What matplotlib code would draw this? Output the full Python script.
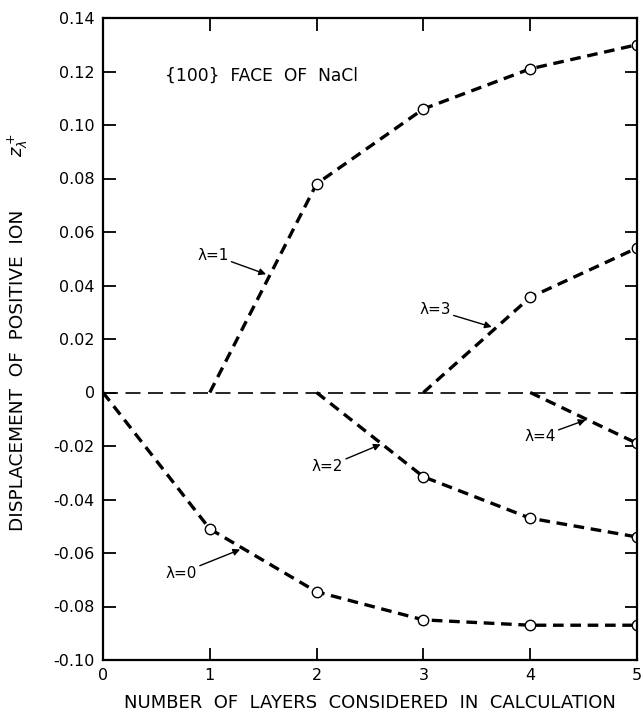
import matplotlib
matplotlib.use("Agg")
from matplotlib import pyplot as plt

# data
x0 = [0, 1, 2, 3, 4, 5]
y0 = [0, -0.051, -0.0745, -0.085, -0.087, -0.087]
x1 = [1, 2, 3, 4, 5]
y1 = [0, 0.078, 0.106, 0.121, 0.130]
x2 = [2, 3, 4, 5]
y2 = [0, -0.0315, -0.047, -0.054]
x3 = [3, 4, 5]
y3 = [0, 0.0356, 0.054]
x4 = [4, 5]
y4 = [0, -0.019]

series = [(x0, y0), (x1, y1), (x2, y2), (x3, y3), (x4, y4)]

yticks = [0.14, 0.12, 0.10, 0.08, 0.06, 0.04, 0.02, 0, -0.02, -0.04, -0.06, -0.08, -0.10]
ytick_labels = ["0.14", "0.12", "0.10", "0.08", "0.06", "0.04", "0.02", "0",
                "-0.02", "-0.04", "-0.06", "-0.08", "-0.10"]

plt.rcParams['font.family'] = ['DejaVu Sans']

fig = plt.figure(figsize=(6.44, 7.16), dpi=100)
ax = fig.add_axes([103/644, 1 - 660/716, (637-103)/644, (660-18)/716])

# zero line
ax.plot([0, 5], [0, 0], color='black', lw=1.2, linestyle=(0, (9, 4.5)))

for xs, ys in series:
    ax.plot(xs, ys, color='black', lw=2.4, linestyle=(0, (3.2, 2.0)))
    ax.plot(xs[1:], ys[1:], linestyle='none', marker='o', ms=7.5,
            mfc='white', mec='black', mew=1.0)

ax.set_xlim(0, 5)
ax.set_ylim(-0.10, 0.14)
ax.set_xticks([0, 1, 2, 3, 4, 5])
ax.set_xticklabels(["0", "1", "2", "3", "4", "5"])
ax.set_yticks(yticks)
ax.set_yticklabels(ytick_labels)
ax.tick_params(direction='in', length=9, width=1.3, labelsize=11.5,
               top=True, right=True, pad=6)
ax.tick_params(axis='x', pad=6)
for s in ax.spines.values():
    s.set_linewidth(1.6)

ax.set_xlabel("NUMBER  OF  LAYERS  CONSIDERED  IN  CALCULATION", fontsize=13,
              labelpad=8)
fig.text(18/644, 1 - 370/716, "DISPLACEMENT  OF  POSITIVE  ION", rotation=90,
         fontsize=13.3, ha='center', va='center')
fig.text(18/644, 1 - 145/716, r"$z_\lambda^+$", rotation=90,
         fontsize=13, ha='center', va='center')

ax.text(0.578, 0.1184, "{100}  FACE  OF  NaCl", fontsize=12.3, ha='left', va='center')

arrow = dict(arrowstyle='-|>', color='black', lw=1.0, mutation_scale=10,
             shrinkA=0, shrinkB=0)
lam_labels = [("λ=1", (1.527, 0.0442), (1.029, 0.0514)),
              ("λ=0", (1.284, -0.0587), (0.734, -0.0675)),
              ("λ=2", (2.60, -0.0194), (2.102, -0.0277)),
              ("λ=3", (3.64, 0.0245), (3.11, 0.0309)),
              ("λ=4", (4.518, -0.0103), (4.092, -0.0165))]
for txt, head, pos in lam_labels:
    ax.annotate(txt, xy=head, xytext=pos, fontsize=11, ha='center', va='center',
                arrowprops=arrow)

fig.savefig("out.png", dpi=100)
